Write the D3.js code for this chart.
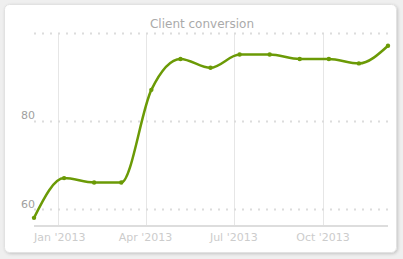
<!DOCTYPE html>
<html>
<head>
<meta charset="utf-8">
<script src="https://cdn.jsdelivr.net/npm/d3@7/dist/d3.min.js"></script>
<style>
  html, body { margin: 0; padding: 0; background: #efefef; }
  svg { display: block; }
  text { font-family: "DejaVu Sans", Verdana, sans-serif; }
</style>
</head>
<body>
<svg id="chart" width="403" height="259"></svg>
<script>
// Monthly client conversion, Dec 2012 – Dec 2013
const dates = ["2012-12-07", "2013-01-07", "2013-02-07", "2013-03-07", "2013-04-07",
               "2013-05-07", "2013-06-07", "2013-07-07", "2013-08-07", "2013-09-07",
               "2013-10-07", "2013-11-07", "2013-12-07"];
const conversion = [58, 67, 66, 66, 87, 94, 92, 95, 95, 94, 94, 93, 97];
const yGridValues = [60, 80, 100];
const yTickLabels = ["60", "80"];
const xTickDates = ["2013-01-01", "2013-04-01", "2013-07-01", "2013-10-01"];
const title = "Client conversion";

const parse = d3.utcParse("%Y-%m-%d");
const data = dates.map((d, i) => ({ date: parse(d), value: conversion[i] }));

const svg = d3.select("#chart");
const W = 403, H = 259;

// card with soft shadow
const defs = svg.append("defs");
const f = defs.append("filter").attr("id", "shadow")
  .attr("x", "-10%").attr("y", "-10%").attr("width", "120%").attr("height", "120%");
f.append("feDropShadow").attr("dx", 1).attr("dy", 1).attr("stdDeviation", 1.6)
  .attr("flood-color", "#000").attr("flood-opacity", 0.18);

svg.append("rect")
  .attr("x", 4.5).attr("y", 4.5).attr("width", 392).attr("height", 248)
  .attr("rx", 5).attr("fill", "#fff").attr("stroke", "#e2e2e2")
  .attr("filter", "url(#shadow)");

const plotLeft = 34, plotRight = 388, axisY = 226;

const x = d3.scaleUtc()
  .domain(d3.extent(data, d => d.date))
  .range([plotLeft, plotRight]);

const y = d3.scaleLinear()
  .domain([60, 100])
  .range([209, 32.5]);

// vertical grid lines at quarter starts
const xTicks = xTickDates.map(parse);
svg.append("g").selectAll("line").data(xTicks).join("line")
  .attr("x1", d => Math.round(x(d)) + 0.5).attr("x2", d => Math.round(x(d)) + 0.5)
  .attr("y1", Math.round(y(100))).attr("y2", axisY)
  .attr("stroke", "#e6e6e6").attr("stroke-width", 1);

// dotted horizontal grid lines
svg.append("g").selectAll("line").data(yGridValues).join("line")
  .attr("x1", plotLeft).attr("x2", plotRight)
  .attr("y1", d => Math.round(y(d)) + 0.5).attr("y2", d => Math.round(y(d)) + 0.5)
  .attr("stroke", "#dcdcdc").attr("stroke-width", 2)
  .attr("stroke-dasharray", "2,6");

// x axis line
svg.append("line")
  .attr("x1", plotLeft).attr("x2", plotRight)
  .attr("y1", axisY).attr("y2", axisY)
  .attr("stroke", "#dddddd").attr("stroke-width", 2);

// y labels
svg.append("g").selectAll("text").data(yTickLabels).join("text")
  .attr("x", 35).attr("y", d => y(+d) - 1.5)
  .attr("text-anchor", "end")
  .attr("font-size", 11).attr("fill", "#a0a0a0")
  .text(d => d);

// x labels, kept inside the plot on the left
const fmt = d => d3.utcFormat("%b")(d) + " '" + d3.utcFormat("%Y")(d);
const xl = svg.append("g").selectAll("text").data(xTicks).join("text")
  .attr("y", 241)
  .attr("text-anchor", "middle")
  .attr("font-size", 11).attr("fill", "#cccccc")
  .text(fmt);
xl.each(function(d) {
  const w = this.getComputedTextLength();
  const cx = Math.max(x(d), plotLeft + w / 2);
  d3.select(this).attr("x", cx);
});

// title
svg.append("text")
  .attr("x", 202).attr("y", 28)
  .attr("text-anchor", "middle")
  .attr("font-size", 12).attr("fill", "#aaaaaa")
  .text(title);

// series line
const line = d3.line()
  .x(d => x(d.date)).y(d => y(d.value))
  .curve(d3.curveMonotoneX);

svg.append("path").datum(data)
  .attr("d", line)
  .attr("fill", "none")
  .attr("stroke", "#6b9a06")
  .attr("stroke-width", 2.5)
  .attr("stroke-linejoin", "round");

svg.append("g").selectAll("circle").data(data).join("circle")
  .attr("cx", d => x(d.date)).attr("cy", d => y(d.value))
  .attr("r", 2.2).attr("fill", "#6b9a06");
</script>
</body>
</html>
